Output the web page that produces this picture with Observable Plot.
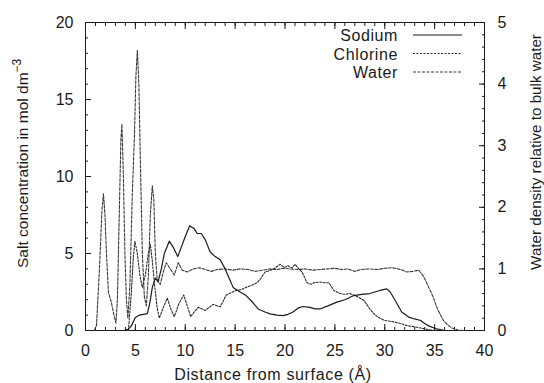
<!DOCTYPE html>
<html>
<head>
<meta charset="utf-8">
<script src="https://cdn.jsdelivr.net/npm/d3@7"></script>
<script src="https://cdn.jsdelivr.net/npm/@observablehq/plot@0.6"></script>
<style>
  html, body { margin: 0; padding: 0; background: #fff; }
  #chart svg { display: block; }
</style>
</head>
<body>
<div id="chart"></div>
<script>
// ---- Data ----
const seriesNames = ["Sodium", "Chlorine", "Water"];

// Sodium concentration (mol dm^-3) vs distance (Å)
const sodiumX = [3.9, 4.3, 4.6, 5.0, 5.4, 5.8, 6.2, 6.45, 6.7, 7.0, 7.3, 7.6, 7.9, 8.4, 8.8, 9.25, 9.6, 10.0, 10.45, 10.9, 11.2, 11.6, 12.0, 12.5, 13.0, 13.5, 14.0, 14.4, 14.8, 15.5, 16.1, 16.8, 17.3, 18.0, 18.5, 19.2, 19.8, 20.3, 20.8, 21.3, 21.8, 22.5, 23.0, 23.5, 24.3, 25.2, 26.0, 26.9, 27.7, 28.5, 29.5, 30.2, 30.55, 31.05, 31.7, 32.4, 33.0, 33.6, 34.0, 34.4, 35.2, 36.0];
const sodiumY = [0, 0.1, 0.3, 0.85, 1.0, 1.05, 1.1, 1.8, 2.8, 3.4, 3.2, 4.0, 5.0, 5.8, 5.4, 4.8, 5.4, 6.1, 6.8, 6.6, 6.3, 6.3, 5.9, 5.1, 4.8, 4.6, 4.0, 3.4, 2.8, 2.5, 2.27, 1.8, 1.4, 1.2, 1.08, 1.0, 0.97, 1.05, 1.2, 1.45, 1.56, 1.5, 1.4, 1.4, 1.6, 1.84, 2.0, 2.27, 2.35, 2.4, 2.6, 2.7, 2.5, 1.95, 1.2, 0.87, 0.75, 0.65, 0.45, 0.3, 0.1, 0];

// Chlorine concentration (mol dm^-3)
const chlorineX = [4.3, 4.6, 4.8, 4.95, 5.2, 5.45, 5.7, 6.0, 6.3, 6.5, 6.7, 6.95, 7.2, 7.4, 7.8, 8.2, 8.55, 8.9, 9.4, 9.85, 10.2, 10.55, 10.9, 11.3, 11.7, 12.0, 12.4, 12.8, 13.2, 13.5, 13.8, 14.1, 14.6, 15.1, 15.6, 16.1, 16.7, 17.2, 17.6, 18.0, 18.5, 19.0, 19.5, 19.9, 20.3, 20.7, 21.0, 21.4, 21.7, 22.0, 22.2, 22.6, 22.9, 23.5, 24.0, 24.4, 24.7, 24.9, 25.5, 26.0, 26.5, 26.9, 27.4, 27.9, 28.2, 28.5, 28.9, 29.3, 30.0, 30.5, 31.0, 31.6, 32.2, 32.9, 33.6, 34.3, 35.0];
const chlorineY = [0, 2.5, 4.8, 5.8, 5.0, 3.6, 2.8, 3.6, 5.0, 5.6, 4.5, 2.8, 1.4, 0.8, 1.5, 2.1, 1.4, 0.9, 1.8, 2.3, 1.6, 0.9, 1.2, 1.5, 1.4, 1.3, 1.5, 1.7, 1.6, 1.55, 1.9, 2.3, 2.45, 2.6, 2.65, 2.8, 2.95, 3.1, 3.4, 3.8, 3.9, 4.05, 4.3, 4.1, 4.2, 4.05, 4.3, 4.0, 3.8, 3.4, 3.1, 3.0, 3.1, 3.15, 3.1, 3.1, 2.8, 2.6, 2.4, 2.35, 2.4, 2.3, 2.15, 1.95, 1.7, 1.4, 1.1, 0.87, 0.65, 0.6, 0.55, 0.45, 0.32, 0.25, 0.16, 0.07, 0];

// Water density relative to bulk water (right axis, 0–5)
const waterX = [0.9, 1.1, 1.4, 1.65, 1.8, 1.95, 2.1, 2.3, 2.6, 2.85, 3.05, 3.2, 3.4, 3.55, 3.65, 3.8, 3.95, 4.1, 4.25, 4.45, 4.7, 4.9, 5.05, 5.2, 5.35, 5.5, 5.7, 5.9, 6.1, 6.3, 6.5, 6.7, 6.85, 7.0, 7.2, 7.5, 7.8, 8.1, 8.5, 8.9, 9.3, 9.7, 10.2, 10.8, 11.4, 12.0, 12.6, 13.2, 14.0, 14.8, 15.5, 16.3, 17.0, 17.8, 18.5, 19.2, 19.8, 20.5, 21.3, 22.0, 22.8, 23.5, 24.2, 25.0, 25.7, 26.3, 27.0, 27.6, 28.5, 29.2, 30.0, 30.7, 31.3, 31.8, 32.2, 32.8, 33.4, 33.8, 34.1, 34.4, 34.7, 35.0, 35.2, 35.5, 35.9, 36.3, 36.75, 37.4, 38.0];
const waterRel = [0, 0.08, 1.0, 1.95, 2.22, 1.88, 1.25, 0.62, 0.45, 0.25, 0.12, 0.5, 2.0, 3.12, 3.35, 2.5, 1.25, 0.5, 0.2, 0.75, 2.25, 3.12, 4.12, 4.55, 4.0, 2.75, 1.25, 0.55, 0.4, 0.88, 1.88, 2.35, 2.12, 1.25, 0.8, 0.75, 0.95, 1.1, 1.0, 0.9, 1.1, 0.98, 0.95, 1.0, 1.02, 0.99, 0.96, 0.99, 1.0, 0.98, 1.0, 0.99, 0.96, 0.98, 1.0, 0.99, 1.01, 1.0, 0.99, 1.0, 0.98, 0.99, 1.0, 1.01, 0.99, 1.0, 0.96, 0.99, 1.0, 0.99, 1.01, 1.02, 1.0, 0.98, 0.95, 0.96, 0.98, 0.9, 0.81, 0.7, 0.6, 0.48, 0.38, 0.28, 0.16, 0.09, 0.04, 0.005, 0];

// Axis ticks
const xMajor = [0, 5, 10, 15, 20, 25, 30, 35, 40];
const yLeftMajor = [0, 5, 10, 15, 20];
const yRightLabels = [0, 1, 2, 3, 4, 5];

// ---- Build tables ----
const sodium = sodiumX.map((x, i) => ({x, y: sodiumY[i]}));
const chlorine = chlorineX.map((x, i) => ({x, y: chlorineY[i]}));
const saltMax = 20, relMax = 5, k = saltMax / relMax; // right-axis conversion
const water = waterX.map((x, i) => ({x, y: waterRel[i] * k}));

const xMinor = d3.range(0, 41, 1);
const yLeftMinor = d3.range(0, 21, 1);
const yRightMinor = d3.range(0, relMax + 1e-9, 0.2).map(v => v * k);
const yRightMajor = yRightLabels.map(v => v * k);

const font = "'Liberation Sans', Arial, Helvetica, sans-serif";
const ink = "#1a1a1a";

const plot = Plot.plot({
  width: 544,
  height: 383,
  marginLeft: 85,
  marginRight: 60,
  marginTop: 22,
  marginBottom: 53,
  style: {fontFamily: font, fontSize: "16px", color: ink, background: "#fff"},
  x: {domain: [0, 40]},
  y: {domain: [0, saltMax]},
  marks: [
    // minor + major ticks, inward on all four sides
    Plot.axisX({ticks: xMinor, tickSize: -3, tickFormat: () => "", label: null, stroke: ink}),
    Plot.axisX({ticks: xMajor, tickSize: -6, tickFormat: () => "", label: null, stroke: ink}),
    Plot.axisX({anchor: "top", ticks: xMinor, tickSize: -3, tickFormat: () => "", label: null, stroke: ink}),
    Plot.axisX({anchor: "top", ticks: xMajor, tickSize: -6, tickFormat: () => "", label: null, stroke: ink}),
    Plot.axisY({ticks: yLeftMinor, tickSize: -3, tickFormat: () => "", label: null, stroke: ink}),
    Plot.axisY({ticks: yLeftMajor, tickSize: -6, tickFormat: () => "", label: null, stroke: ink}),
    Plot.axisY({anchor: "right", ticks: yRightMinor, tickSize: -3, tickFormat: () => "", label: null, stroke: ink}),
    Plot.axisY({anchor: "right", ticks: yRightMajor, tickSize: -6, tickFormat: () => "", label: null, stroke: ink}),
    // tick labels
    Plot.axisX({ticks: xMajor, tickSize: 0, tickPadding: 14, label: null, fontSize: 16, fill: ink}),
    Plot.axisY({ticks: yLeftMajor, tickSize: 0, tickPadding: 12, label: null, fontSize: 16, fill: ink}),
    Plot.axisY({anchor: "right", ticks: yRightMajor, tickSize: 0, tickPadding: 13, tickFormat: d => d / k, label: null, fontSize: 16, fill: ink}),
    Plot.frame({stroke: ink, strokeWidth: 1}),
    // series
    Plot.line(water, {x: "x", y: "y", stroke: "#3a3a3a", strokeWidth: 1.1, strokeDasharray: "3,1.5"}),
    Plot.line(chlorine, {x: "x", y: "y", stroke: "#2a2a2a", strokeWidth: 1.1, strokeDasharray: "2,1.5"}),
    Plot.line(sodium, {x: "x", y: "y", stroke: "#1a1a1a", strokeWidth: 1.2})
  ]
});

document.getElementById("chart").appendChild(plot);

// ---- Titles and legend ----
const svg = d3.select(plot);
const txt = (sel, size) => sel.attr("font-family", font).attr("fill", ink).attr("font-size", size);

// bottom title
txt(svg.append("text"), 16)
  .attr("x", 273).attr("y", 380)
  .attr("text-anchor", "middle")
  .attr("letter-spacing", "0.65px")
  .text("Distance from surface (Å)");

// left title with superscript
const lt = txt(svg.append("text"), 15.5)
  .attr("transform", "translate(28,268) rotate(-90)")
  .attr("text-anchor", "start");
lt.append("tspan").text("Salt concentration in mol dm");
lt.append("tspan").attr("dy", -7).attr("font-size", 12).text("−3");

// right title
txt(svg.append("text"), 15.2)
  .attr("transform", "translate(541,152) rotate(-90)")
  .attr("text-anchor", "middle")
  .text("Water density relative to bulk water");

// legend (top-right, inside the frame)
const legendStyles = [
  {dash: null, stroke: "#1a1a1a"},
  {dash: "2,1.5", stroke: "#2a2a2a"},
  {dash: "3,1.5", stroke: "#3a3a3a"}
];
const lg = svg.append("g");
seriesNames.forEach((name, i) => {
  const yy = 35 + i * 18.5;
  txt(lg.append("text"), 16)
    .attr("x", 398).attr("y", yy + 6)
    .attr("text-anchor", "end")
    .attr("letter-spacing", "0.6px")
    .text(name);
  lg.append("line")
    .attr("x1", 413).attr("x2", 462).attr("y1", yy).attr("y2", yy)
    .attr("stroke", legendStyles[i].stroke)
    .attr("stroke-width", 1)
    .attr("stroke-dasharray", legendStyles[i].dash);
});
</script>
</body>
</html>
